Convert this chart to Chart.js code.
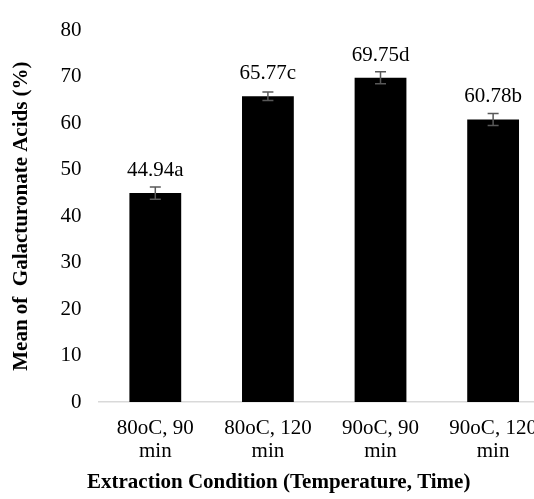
<!DOCTYPE html>
<html><head><meta charset="utf-8">
<script src="https://cdn.jsdelivr.net/npm/chart.js@4/dist/chart.umd.min.js"></script>
<style>
html,body{margin:0;padding:0;overflow:hidden;background:#fff;width:534px;height:499px}
#wrap{position:absolute;left:0;top:0;width:552px;height:499px}
</style>
</head><body><div id="wrap"><canvas id="c" width="552" height="499"></canvas></div>
<script>
const categories = [["80oC, 90","min"],["80oC, 120","min"],["90oC, 90","min"],["90oC, 120","min"]];
const values = [44.94, 65.77, 69.75, 60.78];
const errors = [1.3, 0.9, 1.3, 1.3];
const letters = ["a","c","d","b"];
const yMin = 0, yMax = 80, yStep = 10;
const xTitle = "Extraction Condition (Temperature, Time)";
const yTitle = "Mean of  Galacturonate Acids (%)";

const FAMILY = '"Liberation Serif","Times New Roman",serif';

const extras = {
  id: 'extras',
  afterDatasetsDraw(chart) {
    const ctx = chart.ctx, y = chart.scales.y;
    const meta = chart.getDatasetMeta(0);
    ctx.save();
    meta.data.forEach((bar, i) => {
      const x = bar.x;
      const t = y.getPixelForValue(values[i] + errors[i]);
      const b = y.getPixelForValue(values[i] - errors[i]);
      ctx.strokeStyle = '#595959';
      ctx.lineWidth = 1.5;
      ctx.beginPath();
      ctx.moveTo(x, t); ctx.lineTo(x, b);
      ctx.moveTo(x - 5.5, t); ctx.lineTo(x + 5.5, t);
      ctx.moveTo(x - 5.5, b); ctx.lineTo(x + 5.5, b);
      ctx.stroke();
      ctx.fillStyle = '#000';
      ctx.font = '21px ' + FAMILY;
      ctx.textAlign = 'center';
      ctx.textBaseline = 'alphabetic';
      ctx.fillText(values[i].toFixed(2) + letters[i], x, bar.y - 17);
    });
    ctx.fillStyle = '#000';
    ctx.font = 'bold 21px ' + FAMILY;
    ctx.textAlign = 'left';
    ctx.textBaseline = 'middle';
    ctx.fillText(xTitle, 87, 483);
    ctx.restore();
  }
};

new Chart(document.getElementById('c'), {
  type: 'bar',
  data: {
    labels: categories,
    datasets: [{
      data: values,
      backgroundColor: '#000',
      borderWidth: 0,
      categoryPercentage: 1,
      barPercentage: 0.46
    }]
  },
  options: {
    responsive: false,
    animation: false,
    events: [],
    layout: { padding: { top: 25, right: 1, left: 0, bottom: 0 } },
    plugins: { legend: { display: false }, tooltip: { enabled: false } },
    scales: {
      x: {
        grid: { display: false, drawTicks: false },
        border: { display: true, color: '#d9d9d9', width: 1.5 },
        ticks: { color: '#000', font: { family: FAMILY, size: 21, lineHeight: 1.1 }, padding: 15, maxRotation: 0, autoSkip: false },
        afterFit(s) { s.height = 97; }
      },
      y: {
        min: yMin, max: yMax,
        grid: { display: false, drawTicks: false },
        border: { display: false },
        ticks: { stepSize: yStep, color: '#000', font: { family: FAMILY, size: 21 }, padding: 17.5 },
        title: { display: true, text: yTitle, color: '#000', font: { family: FAMILY, size: 21, weight: 'bold' }, padding: { top: 9, bottom: 0 } },
        afterFit(s) { s.width = 99; }
      }
    }
  },
  plugins: [extras]
});
</script>
</body></html>
